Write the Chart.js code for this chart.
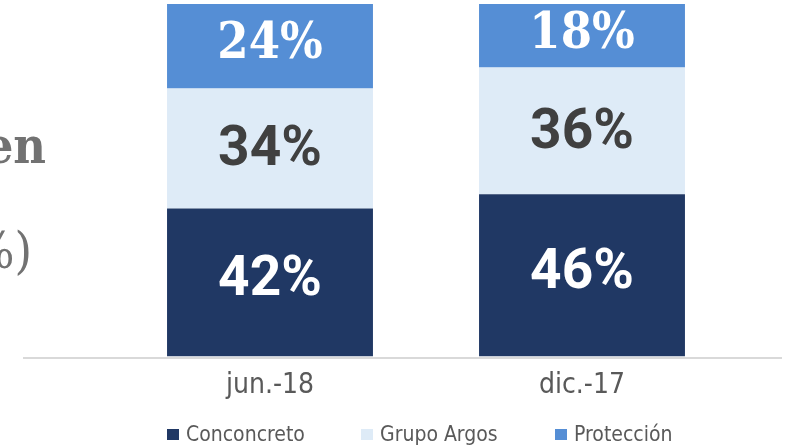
<!DOCTYPE html>
<html lang="es">
<head>
<meta charset="UTF-8">
<title>Composición accionaria</title>
<script src="https://cdn.jsdelivr.net/npm/chart.js"></script>
<style>
    body { margin: 0; background: #fff; }
    #wrap { position: relative; width: 790px; height: 448px; overflow: hidden; }
    .side { position: absolute; color: #727272; font-family: 'DejaVu Serif Condensed', 'DejaVu Serif', serif; font-size: 50px; line-height: 1; white-space: nowrap; text-align: right; }
    #legend { position: absolute; left: 167px; top: 422px; display: flex; font-family: 'DejaVu Sans Condensed', 'DejaVu Sans', sans-serif; font-size: 21px; color: #595959; }
    #legend .item { width: 194px; display: flex; align-items: center; }
    #legend .box { width: 12px; height: 11px; margin-right: 7px; }
</style>
</head>
<body>
<div id="wrap">
    <canvas id="chart" width="790" height="448"></canvas>
    <div class="side" style="right:744px; top:121px; font-weight:bold;">Composición accionaria en</div>
    <div class="side" style="right:758px; top:226px;">(%)</div>
    <div id="legend"></div>
</div>
<script>
    // data
    var categories = ['jun.-18', 'dic.-17'];
    var seriesNames = ['Conconcreto', 'Grupo Argos', 'Protección'];
    var conconcreto = [42, 46];
    var grupoArgos = [34, 36];
    var proteccion = [24, 18];

    // styles
    var seriesColors = ['#203864', '#DEEBF7', '#558ED5'];
    var labelColors = ['#ffffff', '#404040', '#ffffff'];
    var labelFonts = [
        "bold 55px Roboto, sans-serif",
        "bold 55px Roboto, sans-serif",
        "bold 50px 'DejaVu Serif Condensed', 'DejaVu Serif', serif"
    ];
    var labelShift = [-1, 3, -1];

    var seriesValues = [conconcreto, grupoArgos, proteccion];

    // value labels inside each segment
    var barLabels = {
        id: 'barLabels',
        afterDatasetsDraw: function (chart) {
            var ctx = chart.ctx;
            ctx.save();
            ctx.textAlign = 'center';
            ctx.textBaseline = 'middle';
            chart.data.datasets.forEach(function (ds, i) {
                chart.getDatasetMeta(i).data.forEach(function (bar, j) {
                    var p = bar.getProps(['x', 'y', 'base'], true);
                    ctx.font = labelFonts[i];
                    ctx.fillStyle = labelColors[i];
                    ctx.fillText(ds.data[j] + '%', p.x, (p.y + p.base) / 2 + labelShift[i]);
                });
            });
            ctx.restore();
        }
    };

    // long grey baseline under the bars
    var baseLine = {
        id: 'baseLine',
        afterDatasetsDraw: function (chart) {
            var ctx = chart.ctx;
            var y = chart.scales.y.getPixelForValue(0) + 1.5;
            ctx.save();
            ctx.strokeStyle = '#d9d9d9';
            ctx.lineWidth = 2;
            ctx.beginPath();
            ctx.moveTo(23, y);
            ctx.lineTo(782, y);
            ctx.stroke();
            ctx.restore();
        }
    };

    var chart = new Chart(document.getElementById('chart').getContext('2d'), {
        type: 'bar',
        data: {
            labels: categories,
            datasets: seriesNames.map(function (name, i) {
                return {
                    label: name,
                    data: seriesValues[i],
                    backgroundColor: seriesColors[i],
                    borderWidth: 0,
                    categoryPercentage: 1,
                    barPercentage: 0.66
                };
            })
        },
        options: {
            responsive: false,
            animation: false,
            layout: { padding: { left: 114, right: 52, top: 4, bottom: 40 } },
            plugins: { legend: { display: false }, tooltip: { enabled: false } },
            scales: {
                x: {
                    stacked: true,
                    grid: { display: false },
                    border: { display: false },
                    ticks: {
                        padding: 5,
                        color: '#595959',
                        font: { family: "'DejaVu Sans Condensed', 'DejaVu Sans', sans-serif", size: 28 }
                    }
                },
                y: { stacked: true, display: false, min: 0, max: 100 }
            }
        },
        plugins: [barLabels, baseLine]
    });

    // legend from the same series arrays
    var legend = document.getElementById('legend');
    seriesNames.forEach(function (name, i) {
        var item = document.createElement('div');
        item.className = 'item';
        var box = document.createElement('span');
        box.className = 'box';
        box.style.background = seriesColors[i];
        item.appendChild(box);
        item.appendChild(document.createTextNode(name));
        legend.appendChild(item);
    });
</script>
</body>
</html>
